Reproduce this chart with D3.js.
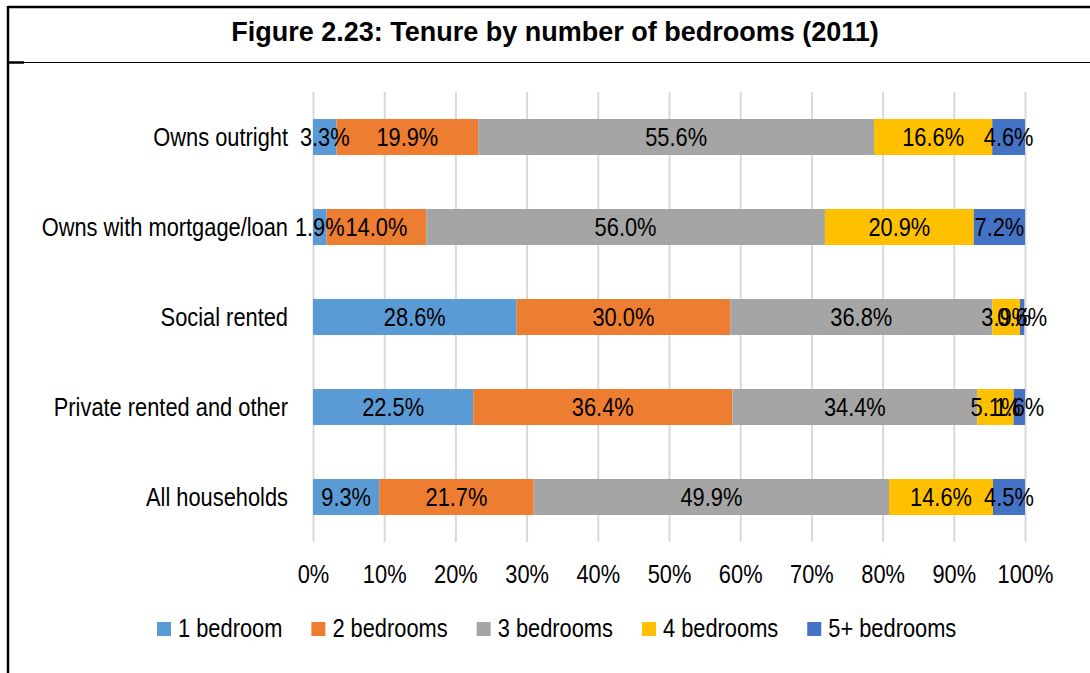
<!DOCTYPE html>
<html>
<head>
<meta charset="utf-8">
<script src="https://cdn.jsdelivr.net/npm/d3@7"></script>
<style>
  body { margin: 0; background: #fff; }
  svg { display: block; font-family: "Liberation Sans", Arial, sans-serif; }
</style>
</head>
<body>
<svg id="chart" width="1090" height="673"></svg>
<script>
// data
const title = "Figure 2.23: Tenure by number of bedrooms (2011)"
const tenures = ["Owns outright", "Owns with mortgage/loan", "Social rented", "Private rented and other", "All households"]
const series = ["1 bedroom", "2 bedrooms", "3 bedrooms", "4 bedrooms", "5+ bedrooms"]
const oneBed   = [3.3, 1.9, 28.6, 22.5, 9.3]
const twoBed   = [19.9, 14.0, 30.0, 36.4, 21.7]
const threeBed = [55.6, 56.0, 36.8, 34.4, 49.9]
const fourBed  = [16.6, 20.9, 3.9, 5.1, 14.6]
const fiveBed  = [4.6, 7.2, 0.6, 1.6, 4.5]
const xTicks = [0, 10, 20, 30, 40, 50, 60, 70, 80, 90, 100]

const colors = ["#5b9bd5", "#ed7d31", "#a5a5a5", "#ffc000", "#4472c4"]
const SX = 0.84        // the chart text is squeezed sideways in the source
const FS = 26

const svg = d3.select("#chart")

const rows = tenures.map((t, i) => {
    const r = { tenure: t }
    ;[oneBed, twoBed, threeBed, fourBed, fiveBed].forEach((arr, j) => r[series[j]] = arr[i])
    return r
})
const stacked = d3.stack().keys(series)(rows)

const margin = { left: 313, right: 65, top: 92, bottom: 131 }
const width = 1090 - margin.left - margin.right
const height = 673 - margin.top - margin.bottom

const xScale = d3.scaleLinear().domain([0, 100]).range([0, width])
const yScale = d3.scaleBand().domain(tenures).range([0, height]).paddingInner(0.6).paddingOuter(0.3)

// frame
svg.append("line").attr("x1", 8).attr("x2", 1090).attr("y1", 7).attr("y2", 7)
    .attr("stroke", "#000").attr("stroke-width", 2.5)
svg.append("line").attr("x1", 8).attr("x2", 8).attr("y1", 6).attr("y2", 673)
    .attr("stroke", "#000").attr("stroke-width", 2.5)
svg.append("line").attr("x1", 8).attr("x2", 1090).attr("y1", 62.5).attr("y2", 62.5)
    .attr("stroke", "#000").attr("stroke-width", 1.2)
svg.append("line").attr("x1", 8).attr("x2", 24).attr("y1", 62.5).attr("y2", 62.5)
    .attr("stroke", "#000").attr("stroke-width", 2.5)

svg.append("text")
    .text(title)
    .attr("x", 555)
    .attr("y", 41)
    .attr("text-anchor", "middle")
    .attr("font-weight", "bold")
    .attr("font-size", 27)
    .attr("fill", "#000")

const g = svg.append("g")
    .attr("transform", `translate(${margin.left}, ${margin.top})`)

// gridlines
g.append("g")
    .call(d3.axisBottom(xScale).tickValues(xTicks).tickSize(height).tickFormat(""))
    .call(a => a.select(".domain").remove())
    .call(a => a.selectAll("line").attr("stroke", "#d9d9d9").attr("stroke-width", 2))

// bars
const layer = g.selectAll(".layer")
    .data(stacked)
    .join("g")
    .attr("class", "layer")
    .attr("fill", (d, i) => colors[i])

layer.selectAll("rect")
    .data(d => d)
    .join("rect")
    .attr("x", d => xScale(d[0]))
    .attr("y", d => yScale(d.data.tenure))
    .attr("width", d => xScale(d[1]) - xScale(d[0]))
    .attr("height", yScale.bandwidth())

// data labels
stacked.forEach(s => {
    g.append("g").selectAll("g")
        .data(s)
        .join("g")
        .attr("transform", d => `translate(${xScale((d[0] + d[1]) / 2)}, ${yScale(d.data.tenure) + yScale.bandwidth() / 2})`)
        .append("text")
        .text(d => (d[1] - d[0]).toFixed(1) + "%")
        .attr("transform", `scale(${SX},1)`)
        .attr("text-anchor", "middle")
        .attr("dy", "0.35em")
        .attr("font-size", FS)
        .attr("fill", "#000")
})

// y axis
g.append("g")
    .call(d3.axisLeft(yScale).tickSize(0))
    .call(a => a.select(".domain").remove())
    .call(a => a.selectAll("text")
        .attr("x", -25 / SX)
        .attr("dy", "0.35em")
        .attr("transform", `scale(${SX},1)`)
        .attr("font-size", FS)
        .attr("font-family", "Liberation Sans, Arial, sans-serif")
        .attr("fill", "#000"))

// x axis
g.append("g")
    .attr("transform", `translate(0, ${height})`)
    .call(d3.axisBottom(xScale).tickValues(xTicks).tickSize(0).tickFormat(d => d + "%"))
    .call(a => a.select(".domain").remove())
    .call(a => a.selectAll("text")
        .attr("y", 41)
        .attr("dy", 0)
        .attr("transform", `scale(${SX},1)`)
        .attr("font-size", FS)
        .attr("font-family", "Liberation Sans, Arial, sans-serif")
        .attr("fill", "#000"))

// legend
const legend = svg.append("g").attr("transform", "translate(157, 622)")
let lx = 0
series.forEach((name, i) => {
    const item = legend.append("g").attr("transform", `translate(${lx}, 0)`)
    item.append("rect")
        .attr("width", 14)
        .attr("height", 14)
        .attr("fill", colors[i])
    const t = item.append("g")
        .attr("transform", "translate(21, 15)")
        .append("text")
        .text(name)
        .attr("transform", `scale(${SX},1)`)
        .attr("font-size", FS)
        .attr("fill", "#000")
    lx += 21 + t.node().getComputedTextLength() * SX + 29
})
</script>
</body>
</html>
